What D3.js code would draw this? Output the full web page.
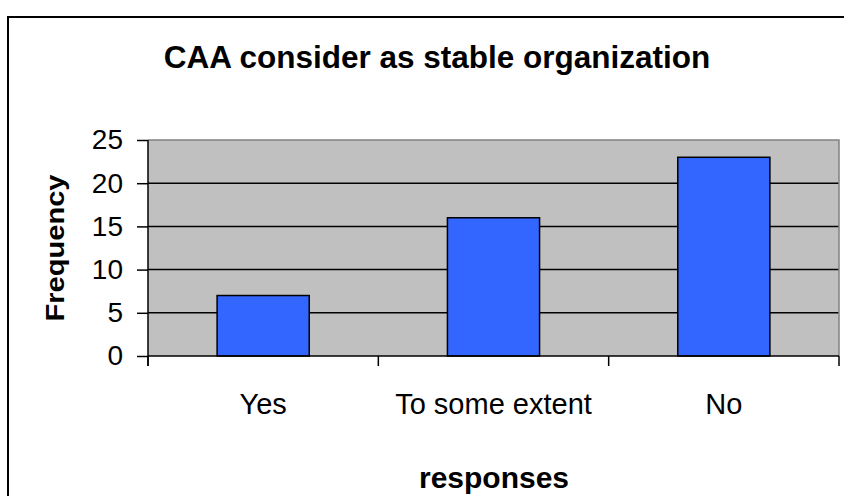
<!DOCTYPE html>
<html>
<head>
<meta charset="utf-8">
<script src="https://cdn.jsdelivr.net/npm/d3@7"></script>
<style>
  html, body { margin: 0; padding: 0; background: #fff; }
  svg { display: block; font-family: "Liberation Sans", Arial, sans-serif; }
</style>
</head>
<body>
<svg id="chart" width="844" height="496"></svg>
<script>
const categories = ["Yes", "To some extent", "No"];
const frequency = [7, 16, 23];
const yTicks = [0, 5, 10, 15, 20, 25];
const titleText = "CAA consider as stable organization";
const xTitle = "responses";
const yTitle = "Frequency";

const svg = d3.select("#chart");
const plot = { left: 148, top: 140, right: 839, bottom: 356 };

// outer chart border (cropped at right/bottom)
svg.append("rect")
  .attr("x", 8).attr("y", 17)
  .attr("width", 860).attr("height", 520)
  .attr("fill", "#fff").attr("stroke", "#000").attr("stroke-width", 2);

const x = d3.scaleBand().domain(categories).range([plot.left, plot.right]).padding(0);
const y = d3.scaleLinear().domain([0, 25]).range([plot.bottom, plot.top]);

// plot area background
svg.append("rect")
  .attr("x", plot.left).attr("y", plot.top)
  .attr("width", plot.right - plot.left).attr("height", plot.bottom - plot.top)
  .attr("fill", "#c0c0c0");

// gridlines
svg.append("g").selectAll("line")
  .data(yTicks.filter(t => t > 0 && t < 25))
  .join("line")
  .attr("x1", plot.left).attr("x2", plot.right)
  .attr("y1", d => y(d)).attr("y2", d => y(d))
  .attr("stroke", "#000").attr("stroke-width", 1.5);

// plot border top & right (gray)
svg.append("path")
  .attr("d", `M${plot.left},${plot.top}H${plot.right}V${plot.bottom}`)
  .attr("fill", "none").attr("stroke", "#808080").attr("stroke-width", 1.5);

// bars
const step = x.step();
svg.append("g").selectAll("rect")
  .data(categories)
  .join("rect")
  .attr("x", d => x(d) + step * 0.3)
  .attr("width", step * 0.4)
  .attr("y", (d, i) => y(frequency[i]))
  .attr("height", (d, i) => y(0) - y(frequency[i]))
  .attr("fill", "#3366ff")
  .attr("stroke", "#000").attr("stroke-width", 1.5);

// y axis
const yAxis = d3.axisLeft(y).tickValues(yTicks).tickSize(11).tickPadding(14);
const gy = svg.append("g").attr("transform", `translate(${plot.left},0)`).call(yAxis);
gy.select(".domain").remove();
gy.selectAll(".tick line").attr("stroke", "#000").attr("stroke-width", 1.5);
gy.selectAll(".tick text")
  .attr("font-size", 28).attr("fill", "#000")
  .attr("font-family", "Liberation Sans, Arial, sans-serif");
svg.append("line")
  .attr("x1", plot.left).attr("x2", plot.left)
  .attr("y1", plot.top).attr("y2", plot.bottom + 10)
  .attr("stroke", "#000").attr("stroke-width", 1.5);

// x axis line
svg.append("line")
  .attr("x1", plot.left).attr("x2", plot.right)
  .attr("y1", plot.bottom).attr("y2", plot.bottom)
  .attr("stroke", "#000").attr("stroke-width", 1.5);
// x ticks at category boundaries
const boundaries = categories.map(c => x(c)).concat([x(categories[categories.length - 1]) + step]);
svg.append("g").selectAll("line")
  .data(boundaries)
  .join("line")
  .attr("x1", d => d).attr("x2", d => d)
  .attr("y1", plot.bottom).attr("y2", plot.bottom + 10)
  .attr("stroke", "#000").attr("stroke-width", 1.5);

// category labels
svg.append("g").selectAll("text")
  .data(categories)
  .join("text")
  .attr("x", d => x(d) + step / 2)
  .attr("y", 414)
  .attr("text-anchor", "middle")
  .attr("font-size", 29)
  .text(d => d);

// title
svg.append("text")
  .attr("x", 437).attr("y", 68)
  .attr("text-anchor", "middle")
  .attr("font-size", 31.5).attr("font-weight", "bold")
  .text(titleText);

// x axis title
svg.append("text")
  .attr("x", 494).attr("y", 488)
  .attr("text-anchor", "middle")
  .attr("font-size", 30).attr("font-weight", "bold")
  .text(xTitle);

// y axis title
svg.append("text")
  .attr("transform", "translate(64,248) rotate(-90)")
  .attr("text-anchor", "middle")
  .attr("font-size", 25).attr("font-weight", "bold")
  .attr("textLength", 147).attr("lengthAdjust", "spacingAndGlyphs")
  .text(yTitle);
</script>
</body>
</html>
